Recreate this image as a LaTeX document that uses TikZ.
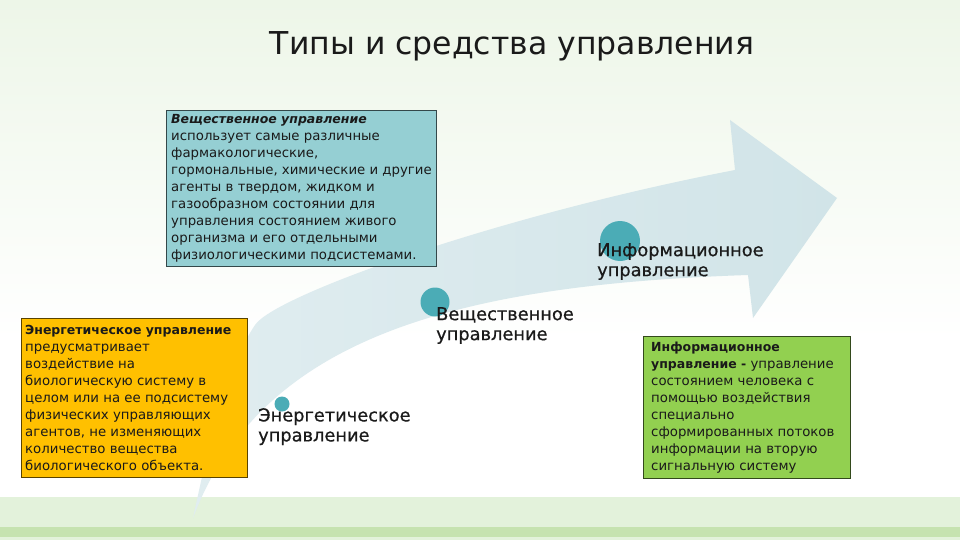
\documentclass[tikz,border=0pt]{standalone}
\usepackage{fontspec}
\setmainfont{DejaVu Sans}
\newfontfamily\lblfont[FakeBold=0.6]{DejaVu Sans}
\definecolor{bgtop}{HTML}{EDF6E8}
\definecolor{arrowc}{HTML}{D1E4E8}
\definecolor{arrowl}{HTML}{E0EDF0}
\definecolor{boxblue}{HTML}{95CFD3}
\definecolor{boxorange}{HTML}{FFC000}
\definecolor{boxgreen}{HTML}{92D050}
\definecolor{dotc}{HTML}{4BACB6}
\definecolor{bandlight}{HTML}{E3F2DB}
\definecolor{banddark}{HTML}{C6E3B0}
\definecolor{ink}{HTML}{1A1A1A}
\newcommand{\hdfont}{\fontsize{12.5}{17}\selectfont\bfseries}
\begin{document}
\begin{tikzpicture}[x=1pt,y=-1pt,
  card/.style={fill=#1, draw=#1!35!black, line width=0.8pt, anchor=north west, inner sep=0pt},
  cardtext/.style={anchor=west, align=left, inner sep=0pt, text=ink,
    font=\fontsize{13.3}{17}\selectfont},
  dot/.style={circle, fill=dotc, inner sep=0pt, minimum size=#1},
  lbl/.style={anchor=north west, align=left, inner sep=0pt, text=ink,
    font=\lblfont\fontsize{17.8}{20}\selectfont}]
\useasboundingbox (0,0) rectangle (960,540);
% background
\shade[top color=bgtop, bottom color=white] (0,0) rectangle (960,340);
\fill[white] (0,340) rectangle (960,497);
\fill[bandlight] (0,497) rectangle (960,527);
\fill[banddark] (0,527) rectangle (960,537);
\fill[bandlight] (0,537) rectangle (960,540);
% curved arrow
\shade[left color=arrowl, right color=arrowc]
  (193,518) .. controls (210,440) and (225,370) .. (255,325)
  .. controls (275,295) and (500,215) .. (735,170)
  -- (730,120) -- (837,198) -- (753,318) -- (748,275)
  .. controls (450,285) and (260,340) .. (193,518) -- cycle;
% title
\node[anchor=base, text=ink, font=\fontsize{31.5}{36}\selectfont, inner sep=0pt]
  (title) at (512,55) {Типы и средства управления};
% boxes
\node[card=boxblue, minimum width=270pt, minimum height=156pt] (bvesh) at (166,110) {};
\node[cardtext] (tvesh) at ([xshift=5pt]bvesh.west) {{\hdfont\itshape Вещественное управление}\\
  использует самые различные\\
  фармакологические,\\
  гормональные, химические и другие\\
  агенты в твердом, жидком и\\
  газообразном состоянии для\\
  управления состоянием живого\\
  организма и его отдельными\\
  физиологическими подсистемами.};
\node[card=boxorange, minimum width=226pt, minimum height=159pt] (benerg) at (21,318) {};
\node[cardtext] (tenerg) at ([xshift=4pt]benerg.west) {{\hdfont Энергетическое управление}\\
  предусматривает\\
  воздействие на\\
  биологическую систему в\\
  целом или на ее подсистему\\
  физических управляющих\\
  агентов, не изменяющих\\
  количество вещества\\
  биологического объекта.};
\node[card=boxgreen, minimum width=207pt, minimum height=142pt] (binfo) at (643,336) {};
\node[cardtext] (tinfo) at ([xshift=8pt]binfo.west) {{\hdfont Информационное}\\
  {\hdfont управление -} управление\\
  состоянием человека с\\
  помощью воздействия\\
  специально\\
  сформированных потоков\\
  информации на вторую\\
  сигнальную систему};
% circles
\node[dot=15pt] (c1) at (282,404) {};
\node[dot=29pt] (c2) at (435,302) {};
\node[dot=40pt] (c3) at (620,241) {};
% labels
\node[lbl] (l1) at (258,408) {Энергетическое\\управление};
\node[lbl] (l2) at (436,307) {Вещественное\\управление};
\node[lbl] (l3) at (597,243) {Информационное\\управление};
\end{tikzpicture}
\end{document}
